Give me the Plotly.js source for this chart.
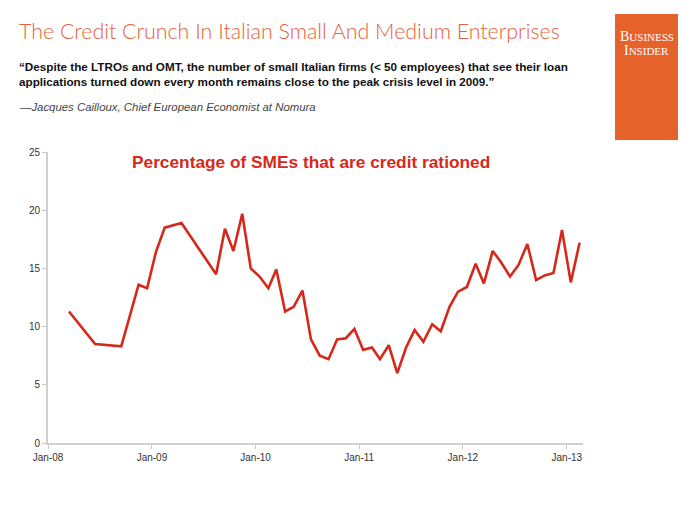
<!DOCTYPE html>
<html>
<head>
<meta charset="utf-8">
<script src="https://cdn.plot.ly/plotly-3.0.1.min.js"></script>
<style>
  html, body { margin: 0; padding: 0; background: #fff; }
  #chart { width: 700px; height: 525px; }
</style>
</head>
<body>
<div id="chart"></div>
<script>
// ---- Data ----
const dates = [
  '2008-03-15', '2008-06-15', '2008-09-15', '2008-11-15', '2008-12-15',
  '2009-01-15', '2009-02-15', '2009-04-15', '2009-08-15', '2009-09-15',
  '2009-10-15', '2009-11-15', '2009-12-15', '2010-01-15', '2010-02-15',
  '2010-03-15', '2010-04-15', '2010-05-15', '2010-06-15', '2010-07-15',
  '2010-08-15', '2010-09-15', '2010-10-15', '2010-11-15', '2010-12-15',
  '2011-01-15', '2011-02-15', '2011-03-15', '2011-04-15', '2011-05-15',
  '2011-06-15', '2011-07-15', '2011-08-15', '2011-09-15', '2011-10-15',
  '2011-11-15', '2011-12-15', '2012-01-15', '2012-02-15', '2012-03-15',
  '2012-04-15', '2012-05-15', '2012-06-15', '2012-07-15', '2012-08-15',
  '2012-09-15', '2012-10-15', '2012-11-15', '2012-12-15', '2013-01-15',
  '2013-02-15'
];
const rationedPct = [
  11.3, 8.5, 8.3, 13.6, 13.3,
  16.4, 18.5, 18.9, 14.5, 18.4,
  16.5, 19.7, 15.0, 14.3, 13.3,
  14.9, 11.3, 11.7, 13.1, 8.9,
  7.5, 7.2, 8.9, 9.0, 9.8,
  8.0, 8.2, 7.2, 8.4, 6.0,
  8.2, 9.7, 8.7, 10.2, 9.6,
  11.7, 13.0, 13.4, 15.4, 13.7,
  16.5, 15.5, 14.3, 15.3, 17.1,
  14.0, 14.4, 14.6, 18.3, 13.8,
  17.2
];
const chartTitle = 'The Credit Crunch In Italian Small And Medium Enterprises';
const quoteLines = [
  '\u201cDespite the LTROs and OMT, the number of small Italian firms (< 50 employees) that see their loan',
  'applications turned down every month remains close to the peak crisis level in 2009.\u201d'
];
const attribution = '\u2014Jacques Cailloux, Chief European Economist at Nomura';
const innerTitle = 'Percentage of SMEs that are credit rationed';
const yTicks = [0, 5, 10, 15, 20, 25];

// ---- Layout geometry (pixels) ----
const W = 700, H = 525;
const M = { l: 48, r: 117, t: 152, b: 82 };
const plotH = H - M.t - M.b;
const plotW = W - M.l - M.r;
const px = x => (x - M.l) / plotW;        // pixel x -> paper x
const py = y => (H - M.b - y) / plotH;    // pixel y -> paper y

const trace = {
  type: 'scatter',
  mode: 'lines',
  x: dates,
  y: rationedPct,
  line: { color: '#d5281a', width: 2.6 },
  hoverinfo: 'skip'
};

const layout = {
  width: W, height: H,
  margin: M,
  paper_bgcolor: '#ffffff',
  plot_bgcolor: '#ffffff',
  showlegend: false,
  font: { family: 'Liberation Sans, Arial, sans-serif', color: '#333333', size: 10 },
  xaxis: {
    type: 'date',
    range: ['2008-01-01', '2013-02-27'],
    tick0: '2008-01-01',
    dtick: 'M12',
    tickformat: '%b-%y',
    showgrid: false,
    zeroline: false,
    showline: true,
    linecolor: '#d0d0d0',
    linewidth: 2,
    ticks: 'outside',
    ticklen: 4,
    tickcolor: '#c8c8c8',
    tickwidth: 1,
    tickfont: { size: 10, color: '#333333' },
    fixedrange: true
  },
  yaxis: {
    range: [0, 25],
    tickvals: yTicks,
    showgrid: false,
    zeroline: false,
    showline: true,
    linecolor: '#d0d0d0',
    linewidth: 2,
    ticks: 'outside',
    ticklen: 4,
    tickcolor: '#c8c8c8',
    tickwidth: 1,
    tickfont: { size: 10, color: '#333333' },
    fixedrange: true
  },
  shapes: [
    { type: 'rect', xref: 'paper', yref: 'paper',
      x0: px(615), x1: px(678), y0: py(140), y1: py(14),
      fillcolor: '#e6622b', line: { width: 0 }, layer: 'above' }
  ],
  annotations: [
    { text: chartTitle, xref: 'paper', yref: 'paper', x: px(17), y: py(31),
      xanchor: 'left', yanchor: 'middle', showarrow: false,
      font: { family: 'Lato, sans-serif', size: 21.4, color: '#e8613a', weight: 300 } },
    { text: quoteLines[0], xref: 'paper', yref: 'paper', x: px(17), y: py(67),
      xanchor: 'left', yanchor: 'middle', showarrow: false,
      font: { family: 'Liberation Sans, Arial, sans-serif', size: 11.7, color: '#111111', weight: 700 } },
    { text: quoteLines[1], xref: 'paper', yref: 'paper', x: px(17), y: py(82),
      xanchor: 'left', yanchor: 'middle', showarrow: false,
      font: { family: 'Liberation Sans, Arial, sans-serif', size: 11.7, color: '#111111', weight: 700 } },
    { text: '<i>' + attribution + '</i>', xref: 'paper', yref: 'paper', x: px(17), y: py(107),
      xanchor: 'left', yanchor: 'middle', showarrow: false,
      font: { family: 'Liberation Sans, Arial, sans-serif', size: 11.4, color: '#444444' } },
    { text: innerTitle, xref: 'paper', yref: 'paper', x: px(311), y: py(162),
      xanchor: 'center', yanchor: 'middle', showarrow: false,
      font: { family: 'Liberation Sans, Arial, sans-serif', size: 17.3, color: '#d42a1a', weight: 700 } },
    { text: 'B<span style="font-size:11px">USINESS</span>', xref: 'paper', yref: 'paper', x: px(646.5), y: py(36),
      xanchor: 'center', yanchor: 'middle', showarrow: false,
      font: { family: 'Liberation Serif, DejaVu Serif, serif', size: 14, color: '#ffffff' } },
    { text: 'I<span style="font-size:11px">NSIDER</span>', xref: 'paper', yref: 'paper', x: px(646.5), y: py(51),
      xanchor: 'center', yanchor: 'middle', showarrow: false,
      font: { family: 'Liberation Serif, DejaVu Serif, serif', size: 14, color: '#ffffff' } }
  ]
};

Plotly.newPlot('chart', [trace], layout, { displayModeBar: false, staticPlot: true });
</script>
</body>
</html>
